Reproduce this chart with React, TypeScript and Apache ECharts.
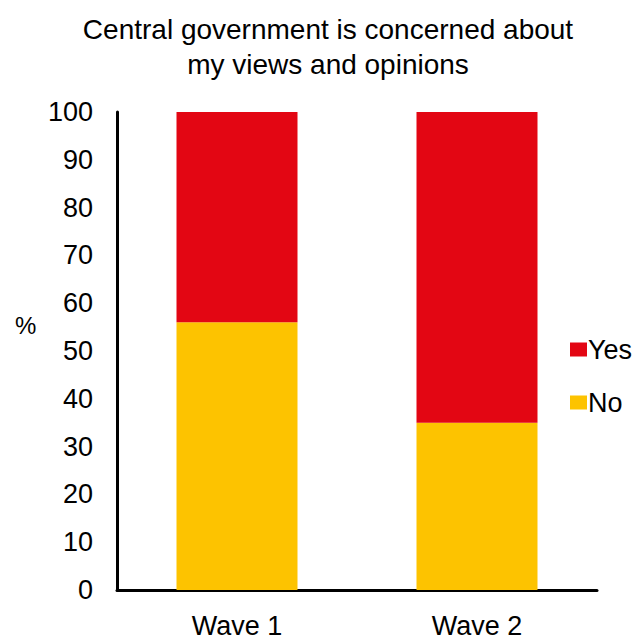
import React, { useEffect, useRef } from "react";
import * as echarts from "echarts";

const categories = ["Wave 1", "Wave 2"];
const noValues = [56, 35];
const yesValues = [44, 65];
const legendOrder = ["Yes", "No"];

const FONT = "'Liberation Sans', Arial, sans-serif";

export default function App() {
  const ref = useRef<HTMLDivElement>(null);

  useEffect(() => {
    if (!ref.current) return;
    const chart = echarts.init(ref.current, null, { renderer: "svg" });
    chart.setOption({
      animation: false,
      textStyle: { fontFamily: FONT, color: "#000" },
      title: {
        text: "Central government is concerned about\nmy views and opinions",
        left: 323,
        textAlign: "center",
        top: 7,
        textStyle: {
          fontFamily: FONT,
          fontSize: 28,
          fontWeight: "normal",
          color: "#000",
          lineHeight: 35,
        },
      },
      graphic: [
        {
          type: "text",
          left: 15,
          top: 313,
          style: { text: "%", fontFamily: FONT, fontSize: 24, fill: "#000" },
        },
      ],
      legend: {
        data: legendOrder,
        orient: "vertical",
        left: 565,
        top: 331,
        itemWidth: 17,
        itemHeight: 14,
        itemGap: 26,
        icon: "rect",
        textStyle: { fontFamily: FONT, fontSize: 27, color: "#000", padding: [0, 0, 0, -4] },
      },
      grid: { left: 117, right: 38, top: 112, bottom: 45 },
      xAxis: {
        type: "category",
        data: categories,
        axisLine: { lineStyle: { color: "#000", width: 3 } },
        axisTick: { show: false },
        axisLabel: { fontFamily: FONT, fontSize: 27, color: "#000", margin: 22 },
      },
      yAxis: {
        type: "value",
        min: 0,
        max: 100,
        interval: 10,
        axisLine: { show: true, lineStyle: { color: "#000", width: 3 } },
        axisTick: { show: false },
        splitLine: { show: false },
        axisLabel: { fontFamily: FONT, fontSize: 27, color: "#000", margin: 24 },
      },
      series: [
        {
          name: "No",
          type: "bar",
          stack: "total",
          data: noValues,
          barWidth: 121,
          itemStyle: { color: "#FDC300" },
        },
        {
          name: "Yes",
          type: "bar",
          stack: "total",
          data: yesValues,
          barWidth: 121,
          itemStyle: { color: "#E30613" },
        },
      ],
    });
    return () => chart.dispose();
  }, []);

  return <div ref={ref} style={{ width: 635, height: 639, position: "absolute", left: 0, top: 0 }} />;
}
